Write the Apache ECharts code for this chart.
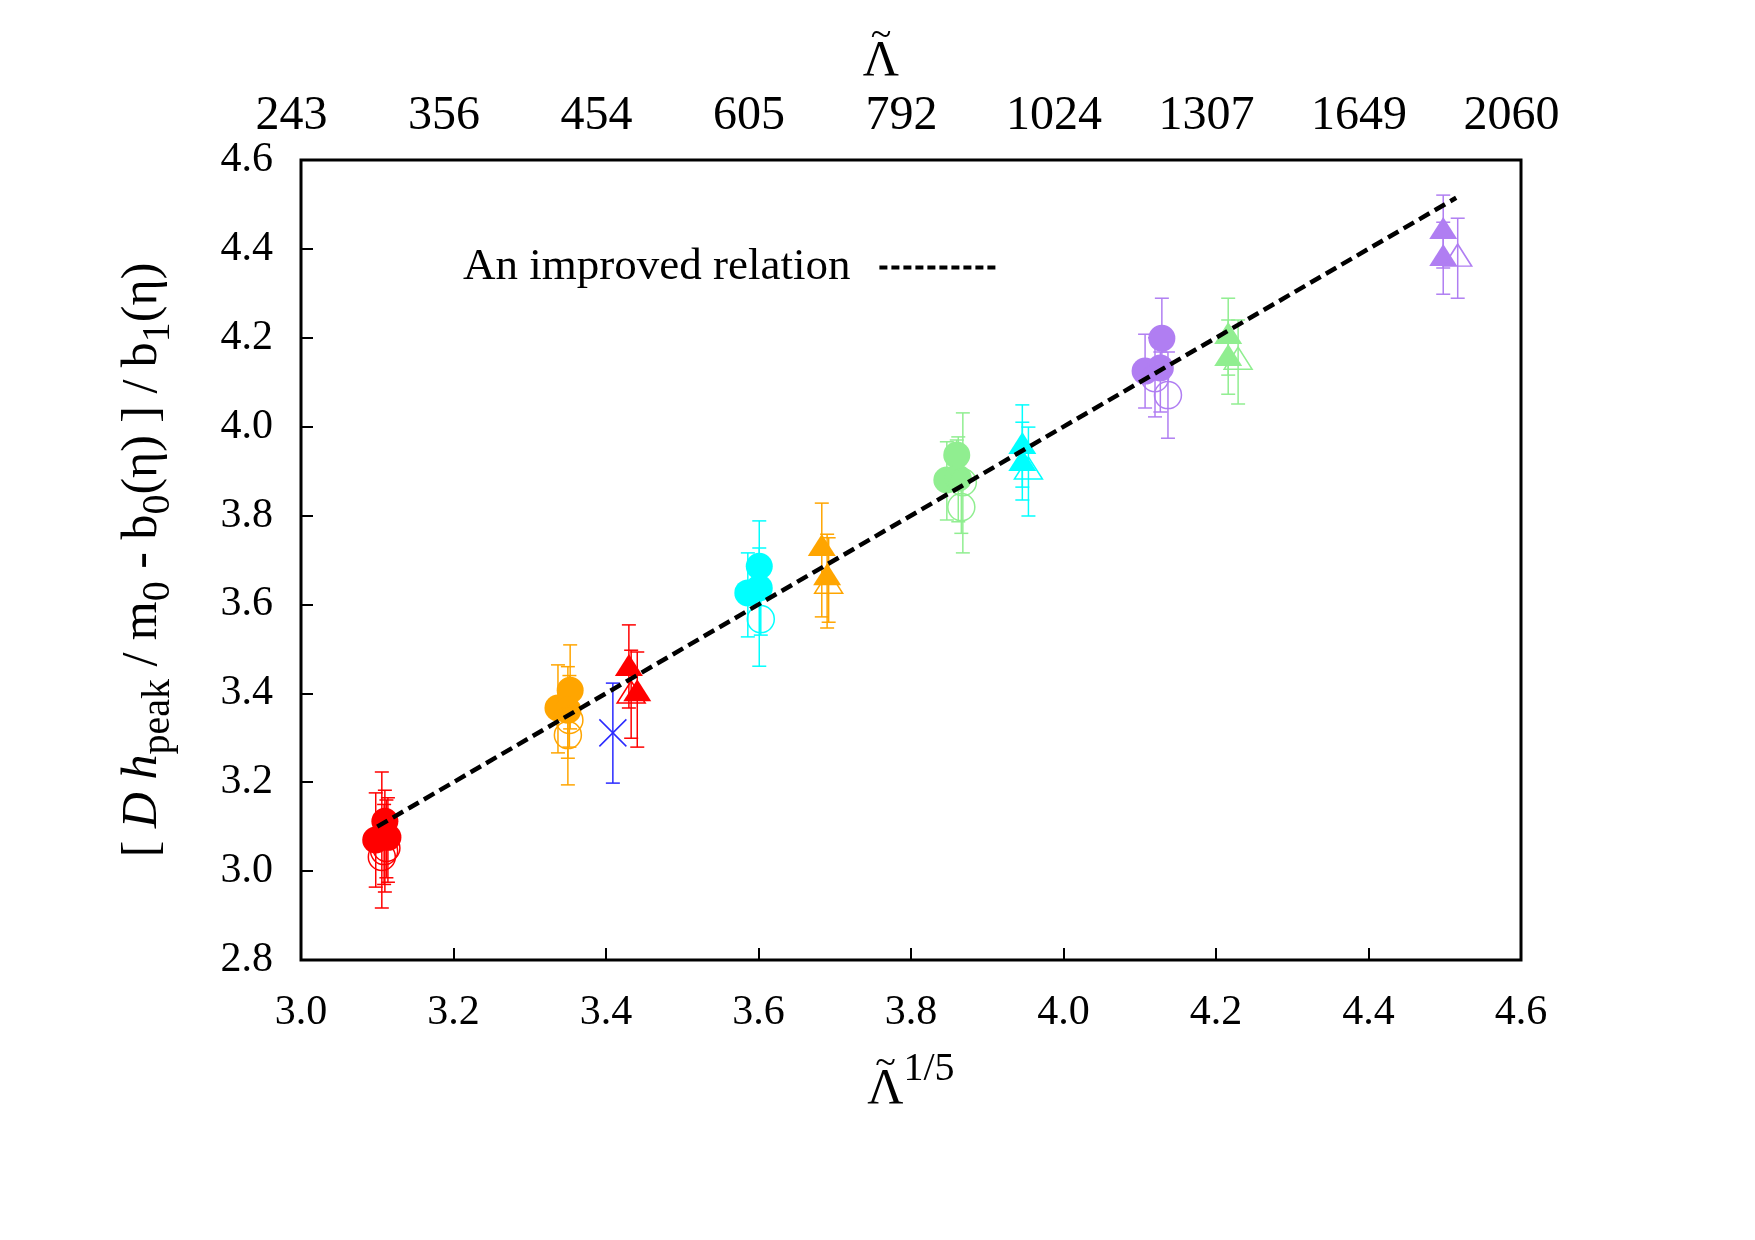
<!DOCTYPE html>
<html>
<head>
<meta charset="utf-8">
<title>Lambda relation</title>
<script src="https://cdn.jsdelivr.net/npm/echarts@6/dist/echarts.min.js"></script>
<style>
html, body { margin: 0; padding: 0; background: #fff; }
#chart { width: 1755px; height: 1240px; }
</style>
</head>
<body>
<div id="chart"></div>
<script>
// top axis labels (Lambda~ = x^5)
var lambdaLabels = ['243', '356', '454', '605', '792', '1024', '1307', '1649', '2060'];

// each point: [x, y, yLow, yHigh]
var redCircles = [[3.098, 3.070, 2.964, 3.176], [3.110, 3.112, 2.953, 3.182], [3.114, 3.076, 2.975, 3.165]];
var redCirclesOpen = [[3.106, 3.032, 2.917, 3.223], [3.109, 3.045, 2.970, 3.150], [3.112, 3.052, 2.985, 3.160]];
var orangeCircles = [[3.337, 3.367, 3.266, 3.464], [3.353, 3.407, 3.320, 3.509], [3.350, 3.362, 3.254, 3.460]];
var orangeCirclesOpen = [[3.350, 3.306, 3.194, 3.420], [3.352, 3.340, 3.279, 3.440]];
var blueCross = [[3.409, 3.311, 3.198, 3.423]];
var redTriangles = [[3.430, 3.464, 3.367, 3.554], [3.441, 3.407, 3.279, 3.493]];
var redTrianglesOpen = [[3.433, 3.403, 3.299, 3.497]];
var cyanCircles = [[3.601, 3.686, 3.640, 3.727], [3.601, 3.637, 3.461, 3.788], [3.586, 3.626, 3.527, 3.716]];
var cyanCirclesOpen = [[3.603, 3.567, 3.531, 3.640]];
var orangeTriangles = [[3.683, 3.734, 3.572, 3.828], [3.690, 3.668, 3.547, 3.758]];
var orangeTrianglesOpen = [[3.692, 3.650, 3.560, 3.750]];
var greenCircles = [[3.847, 3.880, 3.790, 3.966], [3.860, 3.936, 3.900, 3.970], [3.862, 3.884, 3.786, 3.977]];
var greenCirclesOpen = [[3.866, 3.819, 3.760, 3.880], [3.868, 3.875, 3.716, 4.031]];
var cyanTriangles = [[3.946, 3.963, 3.864, 4.049], [3.946, 3.925, 3.835, 4.010]];
var cyanTrianglesOpen = [[3.954, 3.907, 3.799, 3.999]];
var purpleCircles = [[4.129, 4.199, 4.110, 4.289], [4.107, 4.125, 4.042, 4.208], [4.127, 4.132, 4.033, 4.168]];
var purpleCirclesOpen = [[4.137, 4.071, 3.974, 4.168], [4.120, 4.109, 4.022, 4.200]];
var greenTriangles = [[4.216, 4.211, 4.116, 4.289], [4.216, 4.161, 4.073, 4.240]];
var greenTrianglesOpen = [[4.229, 4.154, 4.051, 4.240]];
var purpleTriangles = [[4.498, 4.447, 4.357, 4.521], [4.498, 4.386, 4.298, 4.460]];
var purpleTrianglesOpen = [[4.517, 4.386, 4.289, 4.469]];

// the improved relation (dashed line)
var relationX = [3.10, 4.515];
var relationY = [3.10, 4.515];

(function () {
	var serif = 'Liberation Serif';
	var red = '#ff0000', orange = '#ffa500', cyan = '#00ffff', green = '#90ee90', purple = '#b07ef2', blue = '#2a2aff';

	var groups = [
		{ data: redCircles, color: red, shape: 'circle', open: false },
		{ data: redCirclesOpen, color: red, shape: 'circle', open: true },
		{ data: orangeCircles, color: orange, shape: 'circle', open: false },
		{ data: orangeCirclesOpen, color: orange, shape: 'circle', open: true },
		{ data: blueCross, color: blue, shape: 'cross', open: true },
		{ data: redTriangles, color: red, shape: 'triangle', open: false },
		{ data: redTrianglesOpen, color: red, shape: 'triangle', open: true },
		{ data: cyanCircles, color: cyan, shape: 'circle', open: false },
		{ data: cyanCirclesOpen, color: cyan, shape: 'circle', open: true },
		{ data: orangeTriangles, color: orange, shape: 'triangle', open: false },
		{ data: orangeTrianglesOpen, color: orange, shape: 'triangle', open: true },
		{ data: greenCircles, color: green, shape: 'circle', open: false },
		{ data: greenCirclesOpen, color: green, shape: 'circle', open: true },
		{ data: cyanTriangles, color: cyan, shape: 'triangle', open: false },
		{ data: cyanTrianglesOpen, color: cyan, shape: 'triangle', open: true },
		{ data: purpleCircles, color: purple, shape: 'circle', open: false },
		{ data: purpleCirclesOpen, color: purple, shape: 'circle', open: true },
		{ data: greenTriangles, color: green, shape: 'triangle', open: false },
		{ data: greenTrianglesOpen, color: green, shape: 'triangle', open: true },
		{ data: purpleTriangles, color: purple, shape: 'triangle', open: false },
		{ data: purpleTrianglesOpen, color: purple, shape: 'triangle', open: true }
	];

	function errorBar(params, api) {
		var x = api.value(0);
		var top = api.coord([x, api.value(3)]);
		var bottom = api.coord([x, api.value(2)]);
		var w = 7;
		var style = { stroke: api.visual('color'), lineWidth: 1.5 };
		return {
			type: 'group',
			children: [
				{ type: 'line', shape: { x1: top[0], y1: top[1], x2: bottom[0], y2: bottom[1] }, style: style },
				{ type: 'line', shape: { x1: top[0] - w, y1: top[1], x2: top[0] + w, y2: top[1] }, style: style },
				{ type: 'line', shape: { x1: bottom[0] - w, y1: bottom[1], x2: bottom[0] + w, y2: bottom[1] }, style: style }
			]
		};
	}

	var series = [];
	groups.forEach(function (g) {
		series.push({
			type: 'custom',
			renderItem: errorBar,
			data: g.data,
			encode: { x: 0, y: [2, 3] },
			itemStyle: { color: g.color },
			z: 1,
			silent: true
		});
	});
	groups.forEach(function (g) {
		var symbol = 'circle', size = 27;
		if (g.shape === 'triangle') {
			symbol = 'triangle';
			size = [28, 22];
		} else if (g.shape === 'cross') {
			symbol = 'path://M0,0L10,10M10,0L0,10';
			size = 27;
		}
		series.push({
			type: 'scatter',
			data: g.data,
			encode: { x: 0, y: 1 },
			symbol: symbol,
			symbolSize: size,
			itemStyle: g.open ? {
				color: 'rgba(0,0,0,0)',
				borderColor: g.color,
				borderWidth: 1.5,
				opacity: 1
			} : {
				color: g.color,
				opacity: 1
			},
			z: 2,
			silent: true
		});
	});
	series.push({
		name: 'An improved relation',
		type: 'line',
		data: relationX.map(function (v, i) { return [v, relationY[i]]; }),
		symbol: 'none',
		itemStyle: { color: '#000' },
		lineStyle: { color: '#000', width: 4.5, type: [12, 6] },
		z: 3,
		silent: true
	});

	var myChart = echarts.init(document.getElementById('chart'));
	var option = {
		backgroundColor: '#fff',
		animation: false,
		grid: {
			left: 301,
			right: 234,
			top: 160,
			bottom: 280,
			show: true,
			borderColor: '#000',
			borderWidth: 3,
			backgroundColor: 'transparent'
		},
		legend: {
			data: ['An improved relation'],
			left: 458,
			top: 240,
			align: 'right',
			itemWidth: 120,
			itemHeight: 20,
			selectedMode: false,
			itemStyle: { opacity: 0 },
			lineStyle: { type: [8, 4], width: 4 },
			textStyle: { fontFamily: serif, fontSize: 45, color: '#000', padding: [0, 24, 0, 0] }
		},
		xAxis: [
			{
				type: 'value',
				position: 'bottom',
				min: 3.0,
				max: 4.6,
				interval: 0.2,
				// tilde and 1/5 on the first line, Lambda below
				name: '{t|~}{p|1/5}\n{l|\u039B}{q|1/5}',
				nameLocation: 'middle',
				nameGap: 79,
				nameTextStyle: {
					color: '#000',
					fontFamily: serif,
					rich: {
						t: { fontFamily: serif, fontSize: 38, width: 36, align: 'center', lineHeight: 50, verticalAlign: 'middle', color: '#000' },
						p: { fontFamily: serif, fontSize: 40, lineHeight: 50, verticalAlign: 'bottom', color: '#000' },
						l: { fontFamily: serif, fontSize: 50, lineHeight: 2, verticalAlign: 'middle', color: '#000' },
						q: { fontFamily: serif, fontSize: 40, lineHeight: 2, verticalAlign: 'middle', color: 'rgba(0,0,0,0)' }
					}
				},
				axisLine: { show: false },
				axisTick: { show: true, inside: true, length: 12, lineStyle: { color: '#000', width: 2 } },
				splitLine: { show: false },
				axisLabel: {
					margin: 32,
					color: '#000',
					fontFamily: serif,
					fontSize: 42,
					formatter: function (v) { return v.toFixed(1); }
				}
			},
			{
				type: 'value',
				position: 'top',
				min: 3.0,
				max: 4.6,
				interval: 0.2,
				name: '{t|~}\n{l|\u039B}',
				nameLocation: 'middle',
				nameGap: 83,
				nameTextStyle: {
					color: '#000',
					fontFamily: serif,
					padding: [0, 60, 0, 0],
					rich: {
						t: { fontFamily: serif, fontSize: 38, lineHeight: 50, verticalAlign: 'middle', color: '#000' },
						l: { fontFamily: serif, fontSize: 50, lineHeight: 2, verticalAlign: 'middle', color: '#000' }
					}
				},
				axisLine: { show: false },
				axisTick: { show: false },
				splitLine: { show: false },
				axisLabel: {
					margin: 20,
					color: '#000',
					fontFamily: serif,
					fontSize: 48,
					padding: [0, 19, 0, 0],
					formatter: function (v) { return lambdaLabels[Math.round((v - 3.0) / 0.2)]; }
				}
			}
		],
		yAxis: {
			type: 'value',
			min: 2.8,
			max: 4.6,
			interval: 0.2,
			name: '{n|[ }{i|D h}{s|peak}{n| / m}{s|0}{n| - b}{s|0}{n|(\u03B7) ] / b}{s|1}{n|(\u03B7)}',
			nameLocation: 'middle',
			nameRotate: 90,
			nameGap: 123,
			nameTextStyle: {
				color: '#000',
				fontFamily: serif,
				rich: {
					n: { fontFamily: serif, fontSize: 50, lineHeight: 60, verticalAlign: 'top', color: '#000' },
					i: { fontFamily: serif, fontSize: 50, lineHeight: 60, verticalAlign: 'top', fontStyle: 'italic', color: '#000' },
					s: { fontFamily: serif, fontSize: 40, lineHeight: 60, verticalAlign: 'bottom', color: '#000' }
				}
			},
			axisLine: { show: false },
			axisTick: { show: true, inside: true, length: 12, lineStyle: { color: '#000', width: 2 } },
			splitLine: { show: false },
			axisLabel: {
				margin: 28,
				color: '#000',
				fontFamily: serif,
				fontSize: 42,
				formatter: function (v) { return v.toFixed(1); }
			}
		},
		series: series
	};
	myChart.setOption(option);
	window.addEventListener('resize', function () {
		myChart.resize();
	});
})();
</script>
</body>
</html>
